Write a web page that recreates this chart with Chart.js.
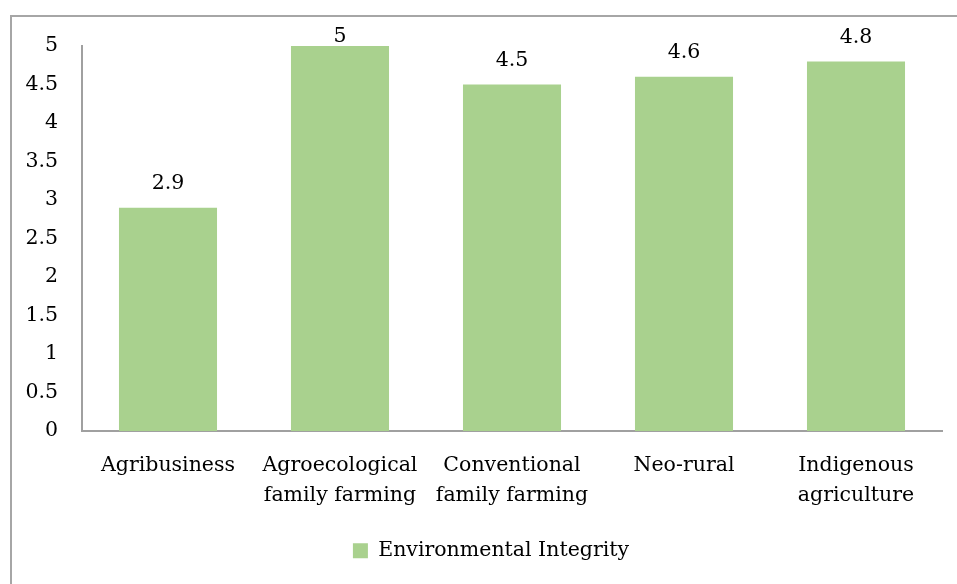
<!DOCTYPE html>
<html>
<head>
<meta charset="utf-8">
<script src="https://cdn.jsdelivr.net/npm/chart.js@4.4.1/dist/chart.umd.min.js"></script>
<style>
  html, body { margin: 0; padding: 0; background: #fff; }
  #wrap { position: relative; width: 957px; height: 584px; overflow: hidden; }
  #frame { position: absolute; left: 10px; top: 15px; width: 980px; height: 600px; border: 2px solid #a6a6a6; box-sizing: border-box; }
  #chart { position: absolute; left: 0; top: 0; }
</style>
</head>
<body>
<div id="wrap">
  <div id="frame"></div>
  <canvas id="chart" width="957" height="584"></canvas>
</div>
<script>
const CATEGORIES = [
  ["Agribusiness"],
  ["Agroecological", "family farming"],
  ["Conventional", "family farming"],
  ["Neo-rural"],
  ["Indigenous", "agriculture"],
];
const VALUES = [2.9, 5, 4.5, 4.6, 4.8];
const SERIES_NAME = "Environmental Integrity";

const BAR_COLOR = "#a9d18e";
const AXIS_COLOR = "#a0a0a0";
const FONT = "'DejaVu Serif', serif";
const FONT_SIZE = 20.5;

const valueLabels = {
  id: "valueLabels",
  afterDatasetsDraw(chart) {
    const ctx = chart.ctx;
    const meta = chart.getDatasetMeta(0);
    ctx.save();
    ctx.font = FONT_SIZE + "px " + FONT;
    ctx.fillStyle = "#000";
    ctx.textAlign = "center";
    ctx.textBaseline = "middle";
    meta.data.forEach((bar, i) => {
      const y = Math.max(bar.y - 24, chart.chartArea.top - 9);
      ctx.fillText(String(VALUES[i]), bar.x, y);
    });
    ctx.restore();
  },
};

// legend sits a bit right of the canvas centre in the original
const shiftLegend = {
  id: "shiftLegend",
  afterLayout(chart) {
    chart.legend.left += 40;
  },
};

new Chart(document.getElementById("chart"), {
  type: "bar",
  data: {
    labels: CATEGORIES,
    datasets: [
      {
        label: SERIES_NAME,
        data: VALUES,
        backgroundColor: BAR_COLOR,
        categoryPercentage: 0.57,
        barPercentage: 1,
      },
    ],
  },
  options: {
    responsive: false,
    animation: false,
    layout: { padding: { top: 46, right: 15, left: 0, bottom: 13 } },
    plugins: {
      legend: {
        position: "bottom",
        labels: {
          font: { family: FONT, size: FONT_SIZE },
          color: "#000",
          boxWidth: 15,
          boxHeight: 15,
          padding: 10,
        },
      },
      tooltip: { enabled: false },
    },
    scales: {
      y: {
        min: 0,
        max: 5,
        ticks: {
          stepSize: 0.5,
          color: "#000",
          font: { family: FONT, size: FONT_SIZE },
          padding: 24,
          callback: (v) => String(Math.round(v * 10) / 10),
        },
        grid: { display: false, drawTicks: false },
        border: { color: AXIS_COLOR, width: 2 },
        afterFit(scale) { scale.width = 82; },
      },
      x: {
        ticks: {
          color: "#000",
          font: { family: FONT, size: FONT_SIZE, lineHeight: 1.45 },
          padding: 20,
          maxRotation: 0,
        },
        grid: { display: false, drawTicks: false },
        border: { color: AXIS_COLOR, width: 2 },
      },
    },
  },
  plugins: [valueLabels, shiftLegend],
});
</script>
</body>
</html>
